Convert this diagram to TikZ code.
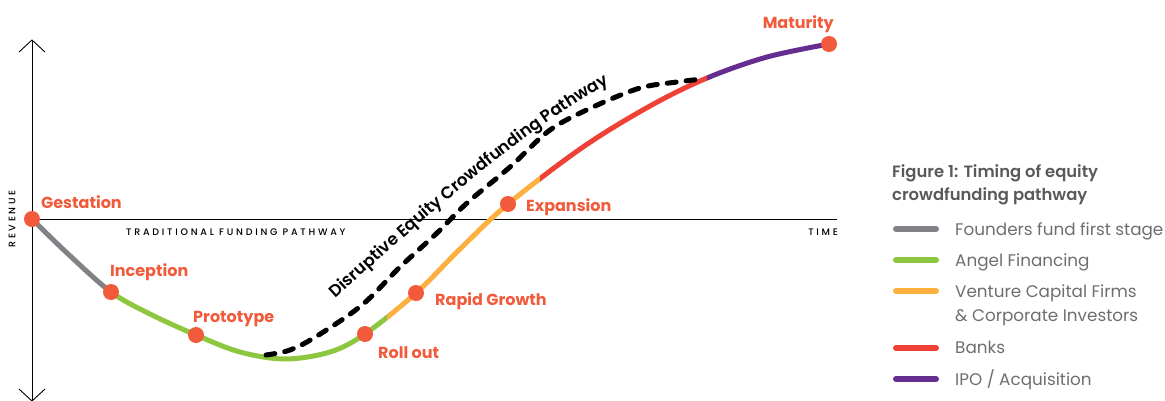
\documentclass[tikz,border=0pt]{standalone}
\usepackage{fontspec}
\usetikzlibrary{decorations.text}
\setmainfont{Poppins}
\newfontfamily\semifont{Poppins SemiBold}
\newfontfamily\spaced[LetterSpace=29]{Poppins Medium}
\definecolor{cgray}{HTML}{808285}
\definecolor{cgreen}{HTML}{8DC63F}
\definecolor{corange}{HTML}{FBB040}
\definecolor{cred}{HTML}{EF4136}
\definecolor{cpurple}{HTML}{662D91}
\definecolor{cdot}{HTML}{F15A3B}
\definecolor{ctitle}{HTML}{58595B}
\definecolor{ctext}{HTML}{6D6E71}
\begin{document}
\begin{tikzpicture}[x=1pt,y=-1pt,
  axis/.style={draw=black,line width=0.9pt},
  curve/.style={line width=5pt},
  dot/.style={circle,fill=cdot,minimum size=16pt,inner sep=0pt},
  stage/.style={text=cdot,font=\bfseries\fontsize{16}{18}\selectfont,inner sep=0pt},
  tiny/.style={font=\spaced\fontsize{9.5}{11}\selectfont,inner sep=0pt},
  legline/.style={line width=6pt,line cap=round},
  legtext/.style={text=ctext,font=\fontsize{16.8}{24}\selectfont,anchor=base west,inner sep=0pt},
  legtitle/.style={text=ctitle,font=\semifont\fontsize{16.4}{23}\selectfont,anchor=base west,inner sep=0pt}]
\useasboundingbox (0,0) rectangle (1165,400);

% axes
\coordinate (ytop) at (32,40);
\coordinate (ybot) at (32,401);
\coordinate (xend) at (837,219);
\coordinate (origin) at (32,219);
\draw[axis] (ybot) -- (ytop);
\draw[axis] (19,52) -- (ytop) -- (45,52);
\draw[axis] (19,389) -- (ybot) -- (45,389);
\draw[axis] (origin) -- (xend);
\node[tiny,rotate=90] (revenue) at (12,219) {REVENUE};
\node[tiny,anchor=west] (trad) at (126,232) {TRADITIONAL FUNDING PATHWAY};
\node[tiny,anchor=east] (time) at (838,232) {TIME};

% stage points
\coordinate (p0) at (32,219);
\coordinate (p1) at (111,292);
\coordinate (p2) at (196,335);
\coordinate (p3) at (365,334);
\coordinate (p4) at (416,293);
\coordinate (p5) at (508,204);
\coordinate (p6) at (829,44);

% funding curve, coloured by stage
\foreach \xa/\xb/\col in {0/111/cgray,111/387/cgreen,387/540/corange,540/707/cred,707/900/cpurple}{
  \begin{scope}
    \clip (\xa,0) rectangle (\xb,400);
    \draw[curve,\col] plot[smooth,tension=0.55] coordinates {(p0) (67,253) (p1) (150,314) (p2) (240,352) (285,359) (330,352) (p3) (p4) (460,249) (p5) (583,147) (650,106) (707,78) (767,57) (p6)};
  \end{scope}
}

% crowdfunding pathway
\coordinate (dstart) at (266,355);
\coordinate (dend) at (702,79);
\draw[line width=5pt,line cap=round,dash pattern=on 9pt off 10pt] plot[smooth,tension=0.55] coordinates {(dstart) (290,350) (317,336) (362,305) (400,267) (437,233) (467,203) (510,167) (550,130) (593,107) (640,88) (677,82) (dend)};
\coordinate (tstart) at (330,304);
\coordinate (tend) at (616,80);
\path[decorate,decoration={text along path,text align=center,
  text={|\semifont\fontsize{16.8}{18}\selectfont|Disruptive Equity Crowdfunding Pathway}}]
  (tstart) .. controls (418,224) and (524,128) .. (tend);

% stage dots and labels
\foreach \p in {p0,p1,p2,p3,p4,p5,p6}{\node[dot] (d\p) at (\p) {};}
\node[stage,anchor=base west] (gest) at (41,208) {Gestation};
\node[stage,anchor=base west] (incep) at (110,276) {Inception};
\node[stage,anchor=base west] (proto) at (193,322) {Prototype};
\node[stage,anchor=base west] (roll) at (378,358) {Roll out};
\node[stage,anchor=base west] (rapid) at (435,305) {Rapid Growth};
\node[stage,anchor=base west] (expan) at (526,211) {Expansion};
\node[stage,anchor=base east] (matur) at (834,28) {Maturity};

% legend
\node[legtitle] (title1) at (892,177) {Figure 1: Timing of equity};
\node[legtitle] (title2) at (892,200) {crowdfunding pathway};
\foreach \y/\col/\nm in {229/cgray/la,260/cgreen/lb,291/corange/lc,348/cred/ld,379/cpurple/le}{
  \coordinate (\nm a) at (896,\y);
  \coordinate (\nm b) at (936,\y);
  \draw[legline,\col] (\nm a) -- (\nm b);
}
\node[legtext] (ta) at (955,235.5) {Founders fund first stage};
\node[legtext] (tb) at (955,266.5) {Angel Financing};
\node[legtext] (tc1) at (955,297.5) {Venture Capital Firms};
\node[legtext] (tc2) at (955,321.5) {\& Corporate Investors};
\node[legtext] (td) at (955,353.5) {Banks};
\node[legtext] (te) at (955,385) {IPO / Acquisition};
\end{tikzpicture}
\end{document}
